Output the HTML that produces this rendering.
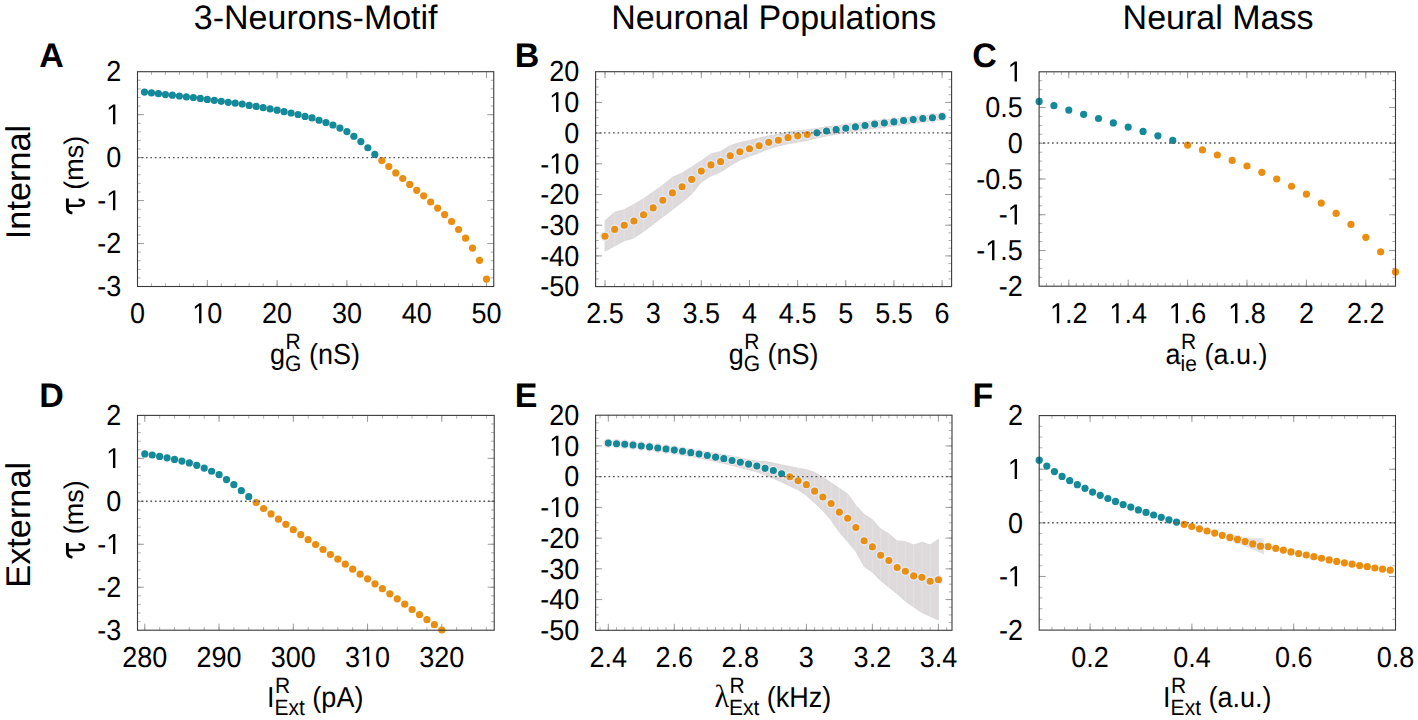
<!DOCTYPE html>
<html><head><meta charset="utf-8"><style>
html,body{margin:0;padding:0;background:#fff;}
body{width:1418px;height:720px;overflow:hidden;}
svg{display:block;font-family:"Liberation Sans",sans-serif;text-rendering:geometricPrecision;}
</style></head><body>
<svg width="1418" height="720" viewBox="0 0 1418 720">
<rect x="0" y="0" width="1418" height="720" fill="#fff"/>
<clipPath id="bc1"><polygon points="605.00,220.60 614.63,212.30 624.26,209.60 633.89,204.40 643.53,198.75 653.16,191.90 662.79,185.20 672.42,177.30 682.05,173.10 691.68,166.90 701.31,160.70 710.95,153.90 720.58,151.50 730.21,145.50 739.84,142.60 749.47,140.40 759.10,138.10 768.73,135.90 778.37,134.20 788.00,131.90 797.63,130.80 807.26,129.70 816.89,128.50 826.52,126.80 836.15,125.70 845.79,124.30 855.42,123.23 865.05,122.17 874.68,121.11 884.31,120.04 893.94,118.97 903.57,117.91 913.21,116.84 922.84,115.78 932.47,114.72 942.10,113.65 942.10,119.60 932.47,120.87 922.84,122.14 913.21,123.41 903.57,124.68 893.94,125.95 884.31,127.22 874.68,128.49 865.05,129.76 855.42,131.03 845.79,132.30 836.15,134.20 826.52,135.90 816.89,138.10 807.26,140.40 797.63,142.10 788.00,143.80 778.37,146.00 768.73,148.85 759.10,152.80 749.47,156.20 739.84,160.10 730.21,165.80 720.58,172.00 710.95,175.90 701.31,182.10 691.68,194.00 682.05,202.30 672.42,209.60 662.79,216.90 653.16,224.20 643.53,231.50 633.89,238.10 624.26,240.80 614.63,246.00 605.00,251.25"/></clipPath>
<polygon points="605.00,220.60 614.63,212.30 624.26,209.60 633.89,204.40 643.53,198.75 653.16,191.90 662.79,185.20 672.42,177.30 682.05,173.10 691.68,166.90 701.31,160.70 710.95,153.90 720.58,151.50 730.21,145.50 739.84,142.60 749.47,140.40 759.10,138.10 768.73,135.90 778.37,134.20 788.00,131.90 797.63,130.80 807.26,129.70 816.89,128.50 826.52,126.80 836.15,125.70 845.79,124.30 855.42,123.23 865.05,122.17 874.68,121.11 884.31,120.04 893.94,118.97 903.57,117.91 913.21,116.84 922.84,115.78 932.47,114.72 942.10,113.65 942.10,119.60 932.47,120.87 922.84,122.14 913.21,123.41 903.57,124.68 893.94,125.95 884.31,127.22 874.68,128.49 865.05,129.76 855.42,131.03 845.79,132.30 836.15,134.20 826.52,135.90 816.89,138.10 807.26,140.40 797.63,142.10 788.00,143.80 778.37,146.00 768.73,148.85 759.10,152.80 749.47,156.20 739.84,160.10 730.21,165.80 720.58,172.00 710.95,175.90 701.31,182.10 691.68,194.00 682.05,202.30 672.42,209.60 662.79,216.90 653.16,224.20 643.53,231.50 633.89,238.10 624.26,240.80 614.63,246.00 605.00,251.25" fill="#dedadb" stroke="#d3d1d2" stroke-width="0.7"/>
<path d="M605.00 218.60V253.25M614.63 210.30V248.00M624.26 207.60V242.80M633.89 202.40V240.10M643.53 196.75V233.50M653.16 189.90V226.20M662.79 183.20V218.90M672.42 175.30V211.60M682.05 171.10V204.30M691.68 164.90V196.00M701.31 158.70V184.10M710.95 151.90V177.90M720.58 149.50V174.00M730.21 143.50V167.80M739.84 140.60V162.10M749.47 138.40V158.20M759.10 136.10V154.80M768.73 133.90V150.85M778.37 132.20V148.00M788.00 129.90V145.80M797.63 128.80V144.10M807.26 127.70V142.40M816.89 126.50V140.10M826.52 124.80V137.90M836.15 123.70V136.20M845.79 122.30V134.30M855.42 121.23V133.03M865.05 120.17V131.76M874.68 119.11V130.49M884.31 118.04V129.22M893.94 116.97V127.95M903.57 115.91V126.68M913.21 114.84V125.41M922.84 113.78V124.14M932.47 112.72V122.87M942.10 111.65V121.60" stroke="#e3e1e2" stroke-width="1" clip-path="url(#bc1)"/>
<clipPath id="bc2"><polygon points="608.30,441.30 616.55,441.90 624.80,442.50 633.06,443.20 641.31,444.20 649.56,444.89 657.81,445.78 666.07,446.57 674.32,447.46 682.57,448.45 690.82,449.59 699.08,450.73 707.33,452.07 715.58,453.46 723.84,454.75 732.09,456.34 740.34,457.93 748.59,459.62 756.85,461.26 765.10,461.50 773.35,463.00 781.60,464.80 789.86,466.50 798.11,468.20 806.36,469.60 814.61,472.40 822.87,477.20 831.12,482.80 839.37,488.30 847.62,493.90 855.88,505.50 864.13,514.30 872.38,519.70 880.63,529.00 888.88,533.75 897.14,540.90 905.39,541.60 913.64,545.00 921.89,542.20 930.15,545.00 938.40,539.40 938.40,620.00 930.15,616.25 921.89,612.50 913.64,606.90 905.39,601.25 897.14,593.75 888.88,587.20 880.63,580.60 872.38,572.20 864.13,566.60 855.88,551.60 847.62,541.80 839.37,532.10 831.12,520.30 822.87,510.60 814.61,502.90 806.36,495.30 798.11,489.70 789.86,486.00 781.60,482.00 773.35,478.50 765.10,475.00 756.85,471.79 748.59,469.69 740.34,467.53 732.09,465.47 723.84,463.42 715.58,461.66 707.33,459.80 699.08,458.00 690.82,456.39 682.57,454.78 674.32,453.33 666.07,451.97 657.81,450.71 649.56,449.36 641.31,448.20 633.06,447.20 624.80,446.50 616.55,445.90 608.30,445.30"/></clipPath>
<polygon points="608.30,441.30 616.55,441.90 624.80,442.50 633.06,443.20 641.31,444.20 649.56,444.89 657.81,445.78 666.07,446.57 674.32,447.46 682.57,448.45 690.82,449.59 699.08,450.73 707.33,452.07 715.58,453.46 723.84,454.75 732.09,456.34 740.34,457.93 748.59,459.62 756.85,461.26 765.10,461.50 773.35,463.00 781.60,464.80 789.86,466.50 798.11,468.20 806.36,469.60 814.61,472.40 822.87,477.20 831.12,482.80 839.37,488.30 847.62,493.90 855.88,505.50 864.13,514.30 872.38,519.70 880.63,529.00 888.88,533.75 897.14,540.90 905.39,541.60 913.64,545.00 921.89,542.20 930.15,545.00 938.40,539.40 938.40,620.00 930.15,616.25 921.89,612.50 913.64,606.90 905.39,601.25 897.14,593.75 888.88,587.20 880.63,580.60 872.38,572.20 864.13,566.60 855.88,551.60 847.62,541.80 839.37,532.10 831.12,520.30 822.87,510.60 814.61,502.90 806.36,495.30 798.11,489.70 789.86,486.00 781.60,482.00 773.35,478.50 765.10,475.00 756.85,471.79 748.59,469.69 740.34,467.53 732.09,465.47 723.84,463.42 715.58,461.66 707.33,459.80 699.08,458.00 690.82,456.39 682.57,454.78 674.32,453.33 666.07,451.97 657.81,450.71 649.56,449.36 641.31,448.20 633.06,447.20 624.80,446.50 616.55,445.90 608.30,445.30" fill="#dedadb" stroke="#d3d1d2" stroke-width="0.7"/>
<path d="M608.30 439.30V447.30M616.55 439.90V447.90M624.80 440.50V448.50M633.06 441.20V449.20M641.31 442.20V450.20M649.56 442.89V451.36M657.81 443.78V452.71M666.07 444.57V453.97M674.32 445.46V455.33M682.57 446.45V456.78M690.82 447.59V458.39M699.08 448.73V460.00M707.33 450.07V461.80M715.58 451.46V463.66M723.84 452.75V465.42M732.09 454.34V467.47M740.34 455.93V469.53M748.59 457.62V471.69M756.85 459.26V473.79M765.10 459.50V477.00M773.35 461.00V480.50M781.60 462.80V484.00M789.86 464.50V488.00M798.11 466.20V491.70M806.36 467.60V497.30M814.61 470.40V504.90M822.87 475.20V512.60M831.12 480.80V522.30M839.37 486.30V534.10M847.62 491.90V543.80M855.88 503.50V553.60M864.13 512.30V568.60M872.38 517.70V574.20M880.63 527.00V582.60M888.88 531.75V589.20M897.14 538.90V595.75M905.39 539.60V603.25M913.64 543.00V608.90M921.89 540.20V614.50M930.15 543.00V618.25M938.40 537.40V622.00" stroke="#e3e1e2" stroke-width="1" clip-path="url(#bc2)"/>
<polygon points="1238.5,537.6 1263.6,538.6 1264.2,554.6 1238.5,543.6" fill="#e1e1e6"/>
<path d="M151.46 286.50v-3.20M151.46 71.70v3.20M165.42 286.50v-3.20M165.42 71.70v3.20M179.38 286.50v-3.20M179.38 71.70v3.20M193.34 286.50v-3.20M193.34 71.70v3.20M207.30 286.50v-3.20M207.30 71.70v3.20M221.26 286.50v-3.20M221.26 71.70v3.20M235.22 286.50v-3.20M235.22 71.70v3.20M249.18 286.50v-3.20M249.18 71.70v3.20M263.14 286.50v-3.20M263.14 71.70v3.20M277.10 286.50v-3.20M277.10 71.70v3.20M291.06 286.50v-3.20M291.06 71.70v3.20M305.02 286.50v-3.20M305.02 71.70v3.20M318.98 286.50v-3.20M318.98 71.70v3.20M332.94 286.50v-3.20M332.94 71.70v3.20M346.90 286.50v-3.20M346.90 71.70v3.20M360.86 286.50v-3.20M360.86 71.70v3.20M374.82 286.50v-3.20M374.82 71.70v3.20M388.78 286.50v-3.20M388.78 71.70v3.20M402.74 286.50v-3.20M402.74 71.70v3.20M416.70 286.50v-3.20M416.70 71.70v3.20M430.66 286.50v-3.20M430.66 71.70v3.20M444.62 286.50v-3.20M444.62 71.70v3.20M458.58 286.50v-3.20M458.58 71.70v3.20M472.54 286.50v-3.20M472.54 71.70v3.20M486.50 286.50v-3.20M486.50 71.70v3.20M137.50 277.91h3.20M493.75 277.91h-3.20M137.50 269.32h3.20M493.75 269.32h-3.20M137.50 260.72h3.20M493.75 260.72h-3.20M137.50 252.13h3.20M493.75 252.13h-3.20M137.50 243.54h3.20M493.75 243.54h-3.20M137.50 234.95h3.20M493.75 234.95h-3.20M137.50 226.36h3.20M493.75 226.36h-3.20M137.50 217.76h3.20M493.75 217.76h-3.20M137.50 209.17h3.20M493.75 209.17h-3.20M137.50 200.58h3.20M493.75 200.58h-3.20M137.50 191.99h3.20M493.75 191.99h-3.20M137.50 183.40h3.20M493.75 183.40h-3.20M137.50 174.80h3.20M493.75 174.80h-3.20M137.50 166.21h3.20M493.75 166.21h-3.20M137.50 157.62h3.20M493.75 157.62h-3.20M137.50 149.03h3.20M493.75 149.03h-3.20M137.50 140.44h3.20M493.75 140.44h-3.20M137.50 131.84h3.20M493.75 131.84h-3.20M137.50 123.25h3.20M493.75 123.25h-3.20M137.50 114.66h3.20M493.75 114.66h-3.20M137.50 106.07h3.20M493.75 106.07h-3.20M137.50 97.48h3.20M493.75 97.48h-3.20M137.50 88.88h3.20M493.75 88.88h-3.20M137.50 80.29h3.20M493.75 80.29h-3.20" stroke="#b0b0b0" stroke-width="1" fill="none"/>
<path d="M207.30 286.50v-6.50M207.30 71.70v6.50M277.10 286.50v-6.50M277.10 71.70v6.50M346.90 286.50v-6.50M346.90 71.70v6.50M416.70 286.50v-6.50M416.70 71.70v6.50M486.50 286.50v-6.50M486.50 71.70v6.50M137.50 243.54h6.50M493.75 243.54h-6.50M137.50 200.58h6.50M493.75 200.58h-6.50M137.50 157.62h6.50M493.75 157.62h-6.50M137.50 114.66h6.50M493.75 114.66h-6.50" stroke="#9c9c9c" stroke-width="1" fill="none"/>
<path d="M605.00 286.60v-3.20M605.00 71.70v3.20M614.63 286.60v-3.20M614.63 71.70v3.20M624.26 286.60v-3.20M624.26 71.70v3.20M633.89 286.60v-3.20M633.89 71.70v3.20M643.53 286.60v-3.20M643.53 71.70v3.20M653.16 286.60v-3.20M653.16 71.70v3.20M662.79 286.60v-3.20M662.79 71.70v3.20M672.42 286.60v-3.20M672.42 71.70v3.20M682.05 286.60v-3.20M682.05 71.70v3.20M691.68 286.60v-3.20M691.68 71.70v3.20M701.31 286.60v-3.20M701.31 71.70v3.20M710.95 286.60v-3.20M710.95 71.70v3.20M720.58 286.60v-3.20M720.58 71.70v3.20M730.21 286.60v-3.20M730.21 71.70v3.20M739.84 286.60v-3.20M739.84 71.70v3.20M749.47 286.60v-3.20M749.47 71.70v3.20M759.10 286.60v-3.20M759.10 71.70v3.20M768.73 286.60v-3.20M768.73 71.70v3.20M778.37 286.60v-3.20M778.37 71.70v3.20M788.00 286.60v-3.20M788.00 71.70v3.20M797.63 286.60v-3.20M797.63 71.70v3.20M807.26 286.60v-3.20M807.26 71.70v3.20M816.89 286.60v-3.20M816.89 71.70v3.20M826.52 286.60v-3.20M826.52 71.70v3.20M836.15 286.60v-3.20M836.15 71.70v3.20M845.79 286.60v-3.20M845.79 71.70v3.20M855.42 286.60v-3.20M855.42 71.70v3.20M865.05 286.60v-3.20M865.05 71.70v3.20M874.68 286.60v-3.20M874.68 71.70v3.20M884.31 286.60v-3.20M884.31 71.70v3.20M893.94 286.60v-3.20M893.94 71.70v3.20M903.57 286.60v-3.20M903.57 71.70v3.20M913.21 286.60v-3.20M913.21 71.70v3.20M922.84 286.60v-3.20M922.84 71.70v3.20M932.47 286.60v-3.20M932.47 71.70v3.20M942.10 286.60v-3.20M942.10 71.70v3.20M595.60 278.93h3.20M951.60 278.93h-3.20M595.60 271.25h3.20M951.60 271.25h-3.20M595.60 263.58h3.20M951.60 263.58h-3.20M595.60 255.90h3.20M951.60 255.90h-3.20M595.60 248.23h3.20M951.60 248.23h-3.20M595.60 240.55h3.20M951.60 240.55h-3.20M595.60 232.88h3.20M951.60 232.88h-3.20M595.60 225.20h3.20M951.60 225.20h-3.20M595.60 217.53h3.20M951.60 217.53h-3.20M595.60 209.85h3.20M951.60 209.85h-3.20M595.60 202.18h3.20M951.60 202.18h-3.20M595.60 194.50h3.20M951.60 194.50h-3.20M595.60 186.83h3.20M951.60 186.83h-3.20M595.60 179.15h3.20M951.60 179.15h-3.20M595.60 171.48h3.20M951.60 171.48h-3.20M595.60 163.80h3.20M951.60 163.80h-3.20M595.60 156.12h3.20M951.60 156.12h-3.20M595.60 148.45h3.20M951.60 148.45h-3.20M595.60 140.78h3.20M951.60 140.78h-3.20M595.60 133.10h3.20M951.60 133.10h-3.20M595.60 125.43h3.20M951.60 125.43h-3.20M595.60 117.75h3.20M951.60 117.75h-3.20M595.60 110.08h3.20M951.60 110.08h-3.20M595.60 102.40h3.20M951.60 102.40h-3.20M595.60 94.73h3.20M951.60 94.73h-3.20M595.60 87.05h3.20M951.60 87.05h-3.20M595.60 79.38h3.20M951.60 79.38h-3.20" stroke="#b0b0b0" stroke-width="1" fill="none"/>
<path d="M605.00 286.60v-6.50M605.00 71.70v6.50M653.16 286.60v-6.50M653.16 71.70v6.50M701.31 286.60v-6.50M701.31 71.70v6.50M749.47 286.60v-6.50M749.47 71.70v6.50M797.63 286.60v-6.50M797.63 71.70v6.50M845.79 286.60v-6.50M845.79 71.70v6.50M893.94 286.60v-6.50M893.94 71.70v6.50M942.10 286.60v-6.50M942.10 71.70v6.50M595.60 255.90h6.50M951.60 255.90h-6.50M595.60 225.20h6.50M951.60 225.20h-6.50M595.60 194.50h6.50M951.60 194.50h-6.50M595.60 163.80h6.50M951.60 163.80h-6.50M595.60 133.10h6.50M951.60 133.10h-6.50M595.60 102.40h6.50M951.60 102.40h-6.50" stroke="#9c9c9c" stroke-width="1" fill="none"/>
<path d="M1046.52 286.20v-3.20M1046.52 71.80v3.20M1053.95 286.20v-3.20M1053.95 71.80v3.20M1061.38 286.20v-3.20M1061.38 71.80v3.20M1068.80 286.20v-3.20M1068.80 71.80v3.20M1076.22 286.20v-3.20M1076.22 71.80v3.20M1083.65 286.20v-3.20M1083.65 71.80v3.20M1091.08 286.20v-3.20M1091.08 71.80v3.20M1098.50 286.20v-3.20M1098.50 71.80v3.20M1105.92 286.20v-3.20M1105.92 71.80v3.20M1113.35 286.20v-3.20M1113.35 71.80v3.20M1120.77 286.20v-3.20M1120.77 71.80v3.20M1128.20 286.20v-3.20M1128.20 71.80v3.20M1135.62 286.20v-3.20M1135.62 71.80v3.20M1143.05 286.20v-3.20M1143.05 71.80v3.20M1150.47 286.20v-3.20M1150.47 71.80v3.20M1157.90 286.20v-3.20M1157.90 71.80v3.20M1165.33 286.20v-3.20M1165.33 71.80v3.20M1172.75 286.20v-3.20M1172.75 71.80v3.20M1180.17 286.20v-3.20M1180.17 71.80v3.20M1187.60 286.20v-3.20M1187.60 71.80v3.20M1195.02 286.20v-3.20M1195.02 71.80v3.20M1202.45 286.20v-3.20M1202.45 71.80v3.20M1209.88 286.20v-3.20M1209.88 71.80v3.20M1217.30 286.20v-3.20M1217.30 71.80v3.20M1224.72 286.20v-3.20M1224.72 71.80v3.20M1232.15 286.20v-3.20M1232.15 71.80v3.20M1239.58 286.20v-3.20M1239.58 71.80v3.20M1247.00 286.20v-3.20M1247.00 71.80v3.20M1254.42 286.20v-3.20M1254.42 71.80v3.20M1261.85 286.20v-3.20M1261.85 71.80v3.20M1269.28 286.20v-3.20M1269.28 71.80v3.20M1276.70 286.20v-3.20M1276.70 71.80v3.20M1284.12 286.20v-3.20M1284.12 71.80v3.20M1291.55 286.20v-3.20M1291.55 71.80v3.20M1298.97 286.20v-3.20M1298.97 71.80v3.20M1306.40 286.20v-3.20M1306.40 71.80v3.20M1313.83 286.20v-3.20M1313.83 71.80v3.20M1321.25 286.20v-3.20M1321.25 71.80v3.20M1328.68 286.20v-3.20M1328.68 71.80v3.20M1336.10 286.20v-3.20M1336.10 71.80v3.20M1343.53 286.20v-3.20M1343.53 71.80v3.20M1350.95 286.20v-3.20M1350.95 71.80v3.20M1358.38 286.20v-3.20M1358.38 71.80v3.20M1365.80 286.20v-3.20M1365.80 71.80v3.20M1373.23 286.20v-3.20M1373.23 71.80v3.20M1380.65 286.20v-3.20M1380.65 71.80v3.20M1388.08 286.20v-3.20M1388.08 71.80v3.20M1039.10 277.27h3.20M1395.50 277.27h-3.20M1039.10 268.33h3.20M1395.50 268.33h-3.20M1039.10 259.40h3.20M1395.50 259.40h-3.20M1039.10 250.47h3.20M1395.50 250.47h-3.20M1039.10 241.53h3.20M1395.50 241.53h-3.20M1039.10 232.60h3.20M1395.50 232.60h-3.20M1039.10 223.67h3.20M1395.50 223.67h-3.20M1039.10 214.73h3.20M1395.50 214.73h-3.20M1039.10 205.80h3.20M1395.50 205.80h-3.20M1039.10 196.87h3.20M1395.50 196.87h-3.20M1039.10 187.93h3.20M1395.50 187.93h-3.20M1039.10 179.00h3.20M1395.50 179.00h-3.20M1039.10 170.07h3.20M1395.50 170.07h-3.20M1039.10 161.13h3.20M1395.50 161.13h-3.20M1039.10 152.20h3.20M1395.50 152.20h-3.20M1039.10 143.27h3.20M1395.50 143.27h-3.20M1039.10 134.33h3.20M1395.50 134.33h-3.20M1039.10 125.40h3.20M1395.50 125.40h-3.20M1039.10 116.47h3.20M1395.50 116.47h-3.20M1039.10 107.53h3.20M1395.50 107.53h-3.20M1039.10 98.60h3.20M1395.50 98.60h-3.20M1039.10 89.67h3.20M1395.50 89.67h-3.20M1039.10 80.73h3.20M1395.50 80.73h-3.20" stroke="#b0b0b0" stroke-width="1" fill="none"/>
<path d="M1068.80 286.20v-6.50M1068.80 71.80v6.50M1128.20 286.20v-6.50M1128.20 71.80v6.50M1187.60 286.20v-6.50M1187.60 71.80v6.50M1247.00 286.20v-6.50M1247.00 71.80v6.50M1306.40 286.20v-6.50M1306.40 71.80v6.50M1365.80 286.20v-6.50M1365.80 71.80v6.50M1039.10 250.47h6.50M1395.50 250.47h-6.50M1039.10 214.73h6.50M1395.50 214.73h-6.50M1039.10 179.00h6.50M1395.50 179.00h-6.50M1039.10 143.27h6.50M1395.50 143.27h-6.50M1039.10 107.53h6.50M1395.50 107.53h-6.50" stroke="#9c9c9c" stroke-width="1" fill="none"/>
<path d="M144.80 630.20v-3.20M144.80 415.40v3.20M159.65 630.20v-3.20M159.65 415.40v3.20M174.50 630.20v-3.20M174.50 415.40v3.20M189.35 630.20v-3.20M189.35 415.40v3.20M204.20 630.20v-3.20M204.20 415.40v3.20M219.05 630.20v-3.20M219.05 415.40v3.20M233.90 630.20v-3.20M233.90 415.40v3.20M248.75 630.20v-3.20M248.75 415.40v3.20M263.60 630.20v-3.20M263.60 415.40v3.20M278.45 630.20v-3.20M278.45 415.40v3.20M293.30 630.20v-3.20M293.30 415.40v3.20M308.15 630.20v-3.20M308.15 415.40v3.20M323.00 630.20v-3.20M323.00 415.40v3.20M337.85 630.20v-3.20M337.85 415.40v3.20M352.70 630.20v-3.20M352.70 415.40v3.20M367.55 630.20v-3.20M367.55 415.40v3.20M382.40 630.20v-3.20M382.40 415.40v3.20M397.25 630.20v-3.20M397.25 415.40v3.20M412.10 630.20v-3.20M412.10 415.40v3.20M426.95 630.20v-3.20M426.95 415.40v3.20M441.80 630.20v-3.20M441.80 415.40v3.20M456.65 630.20v-3.20M456.65 415.40v3.20M471.50 630.20v-3.20M471.50 415.40v3.20M486.35 630.20v-3.20M486.35 415.40v3.20M137.50 621.61h3.20M494.20 621.61h-3.20M137.50 613.02h3.20M494.20 613.02h-3.20M137.50 604.42h3.20M494.20 604.42h-3.20M137.50 595.83h3.20M494.20 595.83h-3.20M137.50 587.24h3.20M494.20 587.24h-3.20M137.50 578.65h3.20M494.20 578.65h-3.20M137.50 570.06h3.20M494.20 570.06h-3.20M137.50 561.46h3.20M494.20 561.46h-3.20M137.50 552.87h3.20M494.20 552.87h-3.20M137.50 544.28h3.20M494.20 544.28h-3.20M137.50 535.69h3.20M494.20 535.69h-3.20M137.50 527.10h3.20M494.20 527.10h-3.20M137.50 518.50h3.20M494.20 518.50h-3.20M137.50 509.91h3.20M494.20 509.91h-3.20M137.50 501.32h3.20M494.20 501.32h-3.20M137.50 492.73h3.20M494.20 492.73h-3.20M137.50 484.14h3.20M494.20 484.14h-3.20M137.50 475.54h3.20M494.20 475.54h-3.20M137.50 466.95h3.20M494.20 466.95h-3.20M137.50 458.36h3.20M494.20 458.36h-3.20M137.50 449.77h3.20M494.20 449.77h-3.20M137.50 441.18h3.20M494.20 441.18h-3.20M137.50 432.58h3.20M494.20 432.58h-3.20M137.50 423.99h3.20M494.20 423.99h-3.20" stroke="#b0b0b0" stroke-width="1" fill="none"/>
<path d="M144.80 630.20v-6.50M144.80 415.40v6.50M219.05 630.20v-6.50M219.05 415.40v6.50M293.30 630.20v-6.50M293.30 415.40v6.50M367.55 630.20v-6.50M367.55 415.40v6.50M441.80 630.20v-6.50M441.80 415.40v6.50M137.50 587.24h6.50M494.20 587.24h-6.50M137.50 544.28h6.50M494.20 544.28h-6.50M137.50 501.32h6.50M494.20 501.32h-6.50M137.50 458.36h6.50M494.20 458.36h-6.50" stroke="#9c9c9c" stroke-width="1" fill="none"/>
<path d="M600.05 630.30v-3.20M600.05 415.20v3.20M608.30 630.30v-3.20M608.30 415.20v3.20M616.55 630.30v-3.20M616.55 415.20v3.20M624.81 630.30v-3.20M624.81 415.20v3.20M633.06 630.30v-3.20M633.06 415.20v3.20M641.31 630.30v-3.20M641.31 415.20v3.20M649.56 630.30v-3.20M649.56 415.20v3.20M657.82 630.30v-3.20M657.82 415.20v3.20M666.07 630.30v-3.20M666.07 415.20v3.20M674.32 630.30v-3.20M674.32 415.20v3.20M682.57 630.30v-3.20M682.57 415.20v3.20M690.83 630.30v-3.20M690.83 415.20v3.20M699.08 630.30v-3.20M699.08 415.20v3.20M707.33 630.30v-3.20M707.33 415.20v3.20M715.58 630.30v-3.20M715.58 415.20v3.20M723.84 630.30v-3.20M723.84 415.20v3.20M732.09 630.30v-3.20M732.09 415.20v3.20M740.34 630.30v-3.20M740.34 415.20v3.20M748.59 630.30v-3.20M748.59 415.20v3.20M756.85 630.30v-3.20M756.85 415.20v3.20M765.10 630.30v-3.20M765.10 415.20v3.20M773.35 630.30v-3.20M773.35 415.20v3.20M781.60 630.30v-3.20M781.60 415.20v3.20M789.86 630.30v-3.20M789.86 415.20v3.20M798.11 630.30v-3.20M798.11 415.20v3.20M806.36 630.30v-3.20M806.36 415.20v3.20M814.61 630.30v-3.20M814.61 415.20v3.20M822.87 630.30v-3.20M822.87 415.20v3.20M831.12 630.30v-3.20M831.12 415.20v3.20M839.37 630.30v-3.20M839.37 415.20v3.20M847.62 630.30v-3.20M847.62 415.20v3.20M855.88 630.30v-3.20M855.88 415.20v3.20M864.13 630.30v-3.20M864.13 415.20v3.20M872.38 630.30v-3.20M872.38 415.20v3.20M880.63 630.30v-3.20M880.63 415.20v3.20M888.88 630.30v-3.20M888.88 415.20v3.20M897.14 630.30v-3.20M897.14 415.20v3.20M905.39 630.30v-3.20M905.39 415.20v3.20M913.64 630.30v-3.20M913.64 415.20v3.20M921.89 630.30v-3.20M921.89 415.20v3.20M930.15 630.30v-3.20M930.15 415.20v3.20M938.40 630.30v-3.20M938.40 415.20v3.20M946.65 630.30v-3.20M946.65 415.20v3.20M595.60 622.62h3.20M952.00 622.62h-3.20M595.60 614.94h3.20M952.00 614.94h-3.20M595.60 607.25h3.20M952.00 607.25h-3.20M595.60 599.57h3.20M952.00 599.57h-3.20M595.60 591.89h3.20M952.00 591.89h-3.20M595.60 584.21h3.20M952.00 584.21h-3.20M595.60 576.52h3.20M952.00 576.52h-3.20M595.60 568.84h3.20M952.00 568.84h-3.20M595.60 561.16h3.20M952.00 561.16h-3.20M595.60 553.48h3.20M952.00 553.48h-3.20M595.60 545.80h3.20M952.00 545.80h-3.20M595.60 538.11h3.20M952.00 538.11h-3.20M595.60 530.43h3.20M952.00 530.43h-3.20M595.60 522.75h3.20M952.00 522.75h-3.20M595.60 515.07h3.20M952.00 515.07h-3.20M595.60 507.39h3.20M952.00 507.39h-3.20M595.60 499.70h3.20M952.00 499.70h-3.20M595.60 492.02h3.20M952.00 492.02h-3.20M595.60 484.34h3.20M952.00 484.34h-3.20M595.60 476.66h3.20M952.00 476.66h-3.20M595.60 468.97h3.20M952.00 468.97h-3.20M595.60 461.29h3.20M952.00 461.29h-3.20M595.60 453.61h3.20M952.00 453.61h-3.20M595.60 445.93h3.20M952.00 445.93h-3.20M595.60 438.25h3.20M952.00 438.25h-3.20M595.60 430.56h3.20M952.00 430.56h-3.20M595.60 422.88h3.20M952.00 422.88h-3.20" stroke="#b0b0b0" stroke-width="1" fill="none"/>
<path d="M608.30 630.30v-6.50M608.30 415.20v6.50M674.32 630.30v-6.50M674.32 415.20v6.50M740.34 630.30v-6.50M740.34 415.20v6.50M806.36 630.30v-6.50M806.36 415.20v6.50M872.38 630.30v-6.50M872.38 415.20v6.50M938.40 630.30v-6.50M938.40 415.20v6.50M595.60 599.57h6.50M952.00 599.57h-6.50M595.60 568.84h6.50M952.00 568.84h-6.50M595.60 538.11h6.50M952.00 538.11h-6.50M595.60 507.39h6.50M952.00 507.39h-6.50M595.60 476.66h6.50M952.00 476.66h-6.50M595.60 445.93h6.50M952.00 445.93h-6.50" stroke="#9c9c9c" stroke-width="1" fill="none"/>
<path d="M1051.92 630.10v-3.20M1051.92 415.60v3.20M1064.65 630.10v-3.20M1064.65 415.60v3.20M1077.38 630.10v-3.20M1077.38 415.60v3.20M1090.10 630.10v-3.20M1090.10 415.60v3.20M1102.83 630.10v-3.20M1102.83 415.60v3.20M1115.55 630.10v-3.20M1115.55 415.60v3.20M1128.28 630.10v-3.20M1128.28 415.60v3.20M1141.00 630.10v-3.20M1141.00 415.60v3.20M1153.72 630.10v-3.20M1153.72 415.60v3.20M1166.45 630.10v-3.20M1166.45 415.60v3.20M1179.17 630.10v-3.20M1179.17 415.60v3.20M1191.90 630.10v-3.20M1191.90 415.60v3.20M1204.62 630.10v-3.20M1204.62 415.60v3.20M1217.35 630.10v-3.20M1217.35 415.60v3.20M1230.08 630.10v-3.20M1230.08 415.60v3.20M1242.80 630.10v-3.20M1242.80 415.60v3.20M1255.53 630.10v-3.20M1255.53 415.60v3.20M1268.25 630.10v-3.20M1268.25 415.60v3.20M1280.97 630.10v-3.20M1280.97 415.60v3.20M1293.70 630.10v-3.20M1293.70 415.60v3.20M1306.42 630.10v-3.20M1306.42 415.60v3.20M1319.15 630.10v-3.20M1319.15 415.60v3.20M1331.88 630.10v-3.20M1331.88 415.60v3.20M1344.60 630.10v-3.20M1344.60 415.60v3.20M1357.33 630.10v-3.20M1357.33 415.60v3.20M1370.05 630.10v-3.20M1370.05 415.60v3.20M1382.78 630.10v-3.20M1382.78 415.60v3.20M1039.20 619.38h3.20M1395.50 619.38h-3.20M1039.20 608.65h3.20M1395.50 608.65h-3.20M1039.20 597.92h3.20M1395.50 597.92h-3.20M1039.20 587.20h3.20M1395.50 587.20h-3.20M1039.20 576.48h3.20M1395.50 576.48h-3.20M1039.20 565.75h3.20M1395.50 565.75h-3.20M1039.20 555.02h3.20M1395.50 555.02h-3.20M1039.20 544.30h3.20M1395.50 544.30h-3.20M1039.20 533.58h3.20M1395.50 533.58h-3.20M1039.20 522.85h3.20M1395.50 522.85h-3.20M1039.20 512.12h3.20M1395.50 512.12h-3.20M1039.20 501.40h3.20M1395.50 501.40h-3.20M1039.20 490.68h3.20M1395.50 490.68h-3.20M1039.20 479.95h3.20M1395.50 479.95h-3.20M1039.20 469.23h3.20M1395.50 469.23h-3.20M1039.20 458.50h3.20M1395.50 458.50h-3.20M1039.20 447.77h3.20M1395.50 447.77h-3.20M1039.20 437.05h3.20M1395.50 437.05h-3.20M1039.20 426.32h3.20M1395.50 426.32h-3.20" stroke="#b0b0b0" stroke-width="1" fill="none"/>
<path d="M1090.10 630.10v-6.50M1090.10 415.60v6.50M1191.90 630.10v-6.50M1191.90 415.60v6.50M1293.70 630.10v-6.50M1293.70 415.60v6.50M1039.20 576.48h6.50M1395.50 576.48h-6.50M1039.20 522.85h6.50M1395.50 522.85h-6.50M1039.20 469.23h6.50M1395.50 469.23h-6.50" stroke="#9c9c9c" stroke-width="1" fill="none"/>
<circle cx="144.48" cy="92.07" r="3.60" fill="#13899a"/>
<circle cx="151.46" cy="92.97" r="3.60" fill="#13899a"/>
<circle cx="158.44" cy="93.70" r="3.60" fill="#13899a"/>
<circle cx="165.42" cy="94.60" r="3.60" fill="#13899a"/>
<circle cx="172.40" cy="95.21" r="3.60" fill="#13899a"/>
<circle cx="179.38" cy="95.98" r="3.60" fill="#13899a"/>
<circle cx="186.36" cy="96.88" r="3.60" fill="#13899a"/>
<circle cx="193.34" cy="97.49" r="3.60" fill="#13899a"/>
<circle cx="200.32" cy="98.39" r="3.60" fill="#13899a"/>
<circle cx="207.30" cy="99.42" r="3.60" fill="#13899a"/>
<circle cx="214.28" cy="100.28" r="3.60" fill="#13899a"/>
<circle cx="221.26" cy="101.31" r="3.60" fill="#13899a"/>
<circle cx="228.24" cy="102.30" r="3.60" fill="#13899a"/>
<circle cx="235.22" cy="103.20" r="3.60" fill="#13899a"/>
<circle cx="242.20" cy="104.11" r="3.60" fill="#13899a"/>
<circle cx="249.18" cy="105.40" r="3.60" fill="#13899a"/>
<circle cx="256.16" cy="106.39" r="3.60" fill="#13899a"/>
<circle cx="263.14" cy="107.72" r="3.60" fill="#13899a"/>
<circle cx="270.12" cy="108.88" r="3.60" fill="#13899a"/>
<circle cx="277.10" cy="110.21" r="3.60" fill="#13899a"/>
<circle cx="284.08" cy="111.72" r="3.60" fill="#13899a"/>
<circle cx="291.06" cy="113.01" r="3.60" fill="#13899a"/>
<circle cx="298.04" cy="114.51" r="3.60" fill="#13899a"/>
<circle cx="305.02" cy="116.41" r="3.60" fill="#13899a"/>
<circle cx="312.00" cy="117.95" r="3.60" fill="#13899a"/>
<circle cx="318.98" cy="120.23" r="3.60" fill="#13899a"/>
<circle cx="325.96" cy="122.51" r="3.60" fill="#13899a"/>
<circle cx="332.94" cy="125.01" r="3.60" fill="#13899a"/>
<circle cx="339.92" cy="128.10" r="3.60" fill="#13899a"/>
<circle cx="346.90" cy="131.58" r="3.60" fill="#13899a"/>
<circle cx="353.88" cy="136.23" r="3.60" fill="#13899a"/>
<circle cx="360.86" cy="141.60" r="3.60" fill="#13899a"/>
<circle cx="367.84" cy="147.75" r="3.60" fill="#13899a"/>
<circle cx="374.82" cy="154.42" r="3.60" fill="#13899a"/>
<circle cx="381.80" cy="160.61" r="3.60" fill="#ea8e12"/>
<circle cx="388.78" cy="166.59" r="3.60" fill="#ea8e12"/>
<circle cx="395.76" cy="172.91" r="3.60" fill="#ea8e12"/>
<circle cx="402.74" cy="178.50" r="3.60" fill="#ea8e12"/>
<circle cx="409.72" cy="184.39" r="3.60" fill="#ea8e12"/>
<circle cx="416.70" cy="190.28" r="3.60" fill="#ea8e12"/>
<circle cx="423.68" cy="195.78" r="3.60" fill="#ea8e12"/>
<circle cx="430.66" cy="202.02" r="3.60" fill="#ea8e12"/>
<circle cx="437.64" cy="208.08" r="3.60" fill="#ea8e12"/>
<circle cx="444.62" cy="214.62" r="3.60" fill="#ea8e12"/>
<circle cx="451.60" cy="221.50" r="3.60" fill="#ea8e12"/>
<circle cx="458.58" cy="229.50" r="3.60" fill="#ea8e12"/>
<circle cx="465.56" cy="238.18" r="3.60" fill="#ea8e12"/>
<circle cx="472.54" cy="248.12" r="3.60" fill="#ea8e12"/>
<circle cx="479.52" cy="260.28" r="3.60" fill="#ea8e12"/>
<circle cx="486.50" cy="279.07" r="3.60" fill="#ea8e12"/>
<circle cx="605.00" cy="236.25" r="4.20" fill="#ea8e12" stroke="#e4ebf8" stroke-width="1.3"/>
<circle cx="614.63" cy="229.40" r="4.20" fill="#ea8e12" stroke="#e4ebf8" stroke-width="1.3"/>
<circle cx="624.26" cy="225.20" r="4.20" fill="#ea8e12" stroke="#e4ebf8" stroke-width="1.3"/>
<circle cx="633.89" cy="221.00" r="4.20" fill="#ea8e12" stroke="#e4ebf8" stroke-width="1.3"/>
<circle cx="643.53" cy="214.80" r="4.20" fill="#ea8e12" stroke="#e4ebf8" stroke-width="1.3"/>
<circle cx="653.16" cy="207.90" r="4.20" fill="#ea8e12" stroke="#e4ebf8" stroke-width="1.3"/>
<circle cx="662.79" cy="200.20" r="4.20" fill="#ea8e12" stroke="#e4ebf8" stroke-width="1.3"/>
<circle cx="672.42" cy="192.90" r="4.20" fill="#ea8e12" stroke="#e4ebf8" stroke-width="1.3"/>
<circle cx="682.05" cy="186.70" r="4.20" fill="#ea8e12" stroke="#e4ebf8" stroke-width="1.3"/>
<circle cx="691.68" cy="179.40" r="4.20" fill="#ea8e12" stroke="#e4ebf8" stroke-width="1.3"/>
<circle cx="701.31" cy="171.10" r="4.20" fill="#ea8e12" stroke="#e4ebf8" stroke-width="1.3"/>
<circle cx="710.95" cy="164.90" r="4.20" fill="#ea8e12" stroke="#e4ebf8" stroke-width="1.3"/>
<circle cx="720.58" cy="161.65" r="4.20" fill="#ea8e12" stroke="#e4ebf8" stroke-width="1.3"/>
<circle cx="730.21" cy="155.80" r="4.20" fill="#ea8e12" stroke="#e4ebf8" stroke-width="1.3"/>
<circle cx="739.84" cy="151.70" r="4.20" fill="#ea8e12" stroke="#e4ebf8" stroke-width="1.3"/>
<circle cx="749.47" cy="148.80" r="4.20" fill="#ea8e12" stroke="#e4ebf8" stroke-width="1.3"/>
<circle cx="759.10" cy="145.70" r="4.20" fill="#ea8e12" stroke="#e4ebf8" stroke-width="1.3"/>
<circle cx="768.73" cy="142.35" r="4.20" fill="#ea8e12" stroke="#e4ebf8" stroke-width="1.3"/>
<circle cx="778.37" cy="140.30" r="4.20" fill="#ea8e12" stroke="#e4ebf8" stroke-width="1.3"/>
<circle cx="788.00" cy="137.65" r="4.20" fill="#ea8e12" stroke="#e4ebf8" stroke-width="1.3"/>
<circle cx="797.63" cy="135.85" r="4.20" fill="#ea8e12" stroke="#e4ebf8" stroke-width="1.3"/>
<circle cx="807.26" cy="134.45" r="4.20" fill="#ea8e12" stroke="#e4ebf8" stroke-width="1.3"/>
<circle cx="816.89" cy="132.85" r="4.20" fill="#13899a" stroke="#f2e6e6" stroke-width="1.3"/>
<circle cx="826.52" cy="131.05" r="4.20" fill="#13899a" stroke="#f2e6e6" stroke-width="1.3"/>
<circle cx="836.15" cy="129.65" r="4.20" fill="#13899a" stroke="#f2e6e6" stroke-width="1.3"/>
<circle cx="845.79" cy="128.20" r="4.20" fill="#13899a" stroke="#f2e6e6" stroke-width="1.3"/>
<circle cx="855.42" cy="126.90" r="4.20" fill="#13899a" stroke="#f2e6e6" stroke-width="1.3"/>
<circle cx="865.05" cy="125.50" r="4.20" fill="#13899a" stroke="#f2e6e6" stroke-width="1.3"/>
<circle cx="874.68" cy="124.10" r="4.20" fill="#13899a" stroke="#f2e6e6" stroke-width="1.3"/>
<circle cx="884.31" cy="123.00" r="4.20" fill="#13899a" stroke="#f2e6e6" stroke-width="1.3"/>
<circle cx="893.94" cy="121.90" r="4.20" fill="#13899a" stroke="#f2e6e6" stroke-width="1.3"/>
<circle cx="903.57" cy="120.50" r="4.20" fill="#13899a" stroke="#f2e6e6" stroke-width="1.3"/>
<circle cx="913.21" cy="119.60" r="4.20" fill="#13899a" stroke="#f2e6e6" stroke-width="1.3"/>
<circle cx="922.84" cy="118.50" r="4.20" fill="#13899a" stroke="#f2e6e6" stroke-width="1.3"/>
<circle cx="932.47" cy="117.80" r="4.20" fill="#13899a" stroke="#f2e6e6" stroke-width="1.3"/>
<circle cx="942.10" cy="116.50" r="4.20" fill="#13899a" stroke="#f2e6e6" stroke-width="1.3"/>
<circle cx="1039.10" cy="101.40" r="3.60" fill="#13899a"/>
<circle cx="1053.95" cy="105.70" r="3.60" fill="#13899a"/>
<circle cx="1068.80" cy="110.10" r="3.60" fill="#13899a"/>
<circle cx="1083.65" cy="114.30" r="3.60" fill="#13899a"/>
<circle cx="1098.50" cy="118.50" r="3.60" fill="#13899a"/>
<circle cx="1113.35" cy="122.90" r="3.60" fill="#13899a"/>
<circle cx="1128.20" cy="127.10" r="3.60" fill="#13899a"/>
<circle cx="1143.05" cy="131.40" r="3.60" fill="#13899a"/>
<circle cx="1157.90" cy="135.80" r="3.60" fill="#13899a"/>
<circle cx="1172.75" cy="140.40" r="3.60" fill="#13899a"/>
<circle cx="1187.60" cy="145.10" r="3.60" fill="#ea8e12"/>
<circle cx="1202.45" cy="149.90" r="3.60" fill="#ea8e12"/>
<circle cx="1217.30" cy="155.00" r="3.60" fill="#ea8e12"/>
<circle cx="1232.15" cy="160.40" r="3.60" fill="#ea8e12"/>
<circle cx="1247.00" cy="166.00" r="3.60" fill="#ea8e12"/>
<circle cx="1261.85" cy="172.30" r="3.60" fill="#ea8e12"/>
<circle cx="1276.70" cy="179.00" r="3.60" fill="#ea8e12"/>
<circle cx="1291.55" cy="186.25" r="3.60" fill="#ea8e12"/>
<circle cx="1306.40" cy="194.20" r="3.60" fill="#ea8e12"/>
<circle cx="1321.25" cy="203.10" r="3.60" fill="#ea8e12"/>
<circle cx="1336.10" cy="213.30" r="3.60" fill="#ea8e12"/>
<circle cx="1350.95" cy="224.40" r="3.60" fill="#ea8e12"/>
<circle cx="1365.80" cy="237.30" r="3.60" fill="#ea8e12"/>
<circle cx="1380.65" cy="251.90" r="3.60" fill="#ea8e12"/>
<circle cx="1395.50" cy="271.90" r="3.60" fill="#ea8e12"/>
<circle cx="144.80" cy="453.90" r="3.60" fill="#13899a"/>
<circle cx="152.23" cy="455.00" r="3.60" fill="#13899a"/>
<circle cx="159.65" cy="456.40" r="3.60" fill="#13899a"/>
<circle cx="167.08" cy="457.80" r="3.60" fill="#13899a"/>
<circle cx="174.50" cy="459.40" r="3.60" fill="#13899a"/>
<circle cx="181.93" cy="461.10" r="3.60" fill="#13899a"/>
<circle cx="189.35" cy="462.90" r="3.60" fill="#13899a"/>
<circle cx="196.78" cy="465.30" r="3.60" fill="#13899a"/>
<circle cx="204.20" cy="468.10" r="3.60" fill="#13899a"/>
<circle cx="211.62" cy="471.25" r="3.60" fill="#13899a"/>
<circle cx="219.05" cy="474.70" r="3.60" fill="#13899a"/>
<circle cx="226.48" cy="479.60" r="3.60" fill="#13899a"/>
<circle cx="233.90" cy="484.70" r="3.60" fill="#13899a"/>
<circle cx="241.33" cy="490.70" r="3.60" fill="#13899a"/>
<circle cx="248.75" cy="496.70" r="3.60" fill="#13899a"/>
<circle cx="256.18" cy="502.50" r="3.60" fill="#ea8e12"/>
<circle cx="263.60" cy="508.50" r="3.60" fill="#ea8e12"/>
<circle cx="271.02" cy="513.90" r="3.60" fill="#ea8e12"/>
<circle cx="278.45" cy="519.20" r="3.60" fill="#ea8e12"/>
<circle cx="285.88" cy="524.30" r="3.60" fill="#ea8e12"/>
<circle cx="293.30" cy="529.70" r="3.60" fill="#ea8e12"/>
<circle cx="300.73" cy="534.70" r="3.60" fill="#ea8e12"/>
<circle cx="308.15" cy="539.70" r="3.60" fill="#ea8e12"/>
<circle cx="315.58" cy="544.50" r="3.60" fill="#ea8e12"/>
<circle cx="323.00" cy="549.50" r="3.60" fill="#ea8e12"/>
<circle cx="330.43" cy="554.50" r="3.60" fill="#ea8e12"/>
<circle cx="337.85" cy="559.20" r="3.60" fill="#ea8e12"/>
<circle cx="345.27" cy="564.20" r="3.60" fill="#ea8e12"/>
<circle cx="352.70" cy="569.20" r="3.60" fill="#ea8e12"/>
<circle cx="360.12" cy="574.20" r="3.60" fill="#ea8e12"/>
<circle cx="367.55" cy="578.80" r="3.60" fill="#ea8e12"/>
<circle cx="374.98" cy="583.80" r="3.60" fill="#ea8e12"/>
<circle cx="382.40" cy="588.70" r="3.60" fill="#ea8e12"/>
<circle cx="389.83" cy="593.80" r="3.60" fill="#ea8e12"/>
<circle cx="397.25" cy="598.80" r="3.60" fill="#ea8e12"/>
<circle cx="404.68" cy="604.20" r="3.60" fill="#ea8e12"/>
<circle cx="412.10" cy="609.50" r="3.60" fill="#ea8e12"/>
<circle cx="419.53" cy="614.70" r="3.60" fill="#ea8e12"/>
<circle cx="426.95" cy="619.70" r="3.60" fill="#ea8e12"/>
<circle cx="434.38" cy="624.70" r="3.60" fill="#ea8e12"/>
<circle cx="441.80" cy="630.00" r="3.60" fill="#ea8e12"/>
<circle cx="608.30" cy="443.10" r="4.20" fill="#13899a" stroke="#f2e6e6" stroke-width="1.3"/>
<circle cx="616.55" cy="443.70" r="4.20" fill="#13899a" stroke="#f2e6e6" stroke-width="1.3"/>
<circle cx="624.80" cy="444.30" r="4.20" fill="#13899a" stroke="#f2e6e6" stroke-width="1.3"/>
<circle cx="633.06" cy="445.00" r="4.20" fill="#13899a" stroke="#f2e6e6" stroke-width="1.3"/>
<circle cx="641.31" cy="446.00" r="4.20" fill="#13899a" stroke="#f2e6e6" stroke-width="1.3"/>
<circle cx="649.56" cy="446.90" r="4.20" fill="#13899a" stroke="#f2e6e6" stroke-width="1.3"/>
<circle cx="657.81" cy="448.00" r="4.20" fill="#13899a" stroke="#f2e6e6" stroke-width="1.3"/>
<circle cx="666.07" cy="449.00" r="4.20" fill="#13899a" stroke="#f2e6e6" stroke-width="1.3"/>
<circle cx="674.32" cy="450.10" r="4.20" fill="#13899a" stroke="#f2e6e6" stroke-width="1.3"/>
<circle cx="682.57" cy="451.30" r="4.20" fill="#13899a" stroke="#f2e6e6" stroke-width="1.3"/>
<circle cx="690.82" cy="452.65" r="4.20" fill="#13899a" stroke="#f2e6e6" stroke-width="1.3"/>
<circle cx="699.08" cy="454.00" r="4.20" fill="#13899a" stroke="#f2e6e6" stroke-width="1.3"/>
<circle cx="707.33" cy="455.55" r="4.20" fill="#13899a" stroke="#f2e6e6" stroke-width="1.3"/>
<circle cx="715.58" cy="457.15" r="4.20" fill="#13899a" stroke="#f2e6e6" stroke-width="1.3"/>
<circle cx="723.84" cy="458.65" r="4.20" fill="#13899a" stroke="#f2e6e6" stroke-width="1.3"/>
<circle cx="732.09" cy="460.45" r="4.20" fill="#13899a" stroke="#f2e6e6" stroke-width="1.3"/>
<circle cx="740.34" cy="462.25" r="4.20" fill="#13899a" stroke="#f2e6e6" stroke-width="1.3"/>
<circle cx="748.59" cy="464.15" r="4.20" fill="#13899a" stroke="#f2e6e6" stroke-width="1.3"/>
<circle cx="756.85" cy="466.00" r="4.20" fill="#13899a" stroke="#f2e6e6" stroke-width="1.3"/>
<circle cx="765.10" cy="468.35" r="4.20" fill="#13899a" stroke="#f2e6e6" stroke-width="1.3"/>
<circle cx="773.35" cy="470.55" r="4.20" fill="#13899a" stroke="#f2e6e6" stroke-width="1.3"/>
<circle cx="781.60" cy="473.80" r="4.20" fill="#13899a" stroke="#f2e6e6" stroke-width="1.3"/>
<circle cx="789.86" cy="476.70" r="4.20" fill="#ea8e12" stroke="#e4ebf8" stroke-width="1.3"/>
<circle cx="798.11" cy="480.75" r="4.20" fill="#ea8e12" stroke="#e4ebf8" stroke-width="1.3"/>
<circle cx="806.36" cy="484.65" r="4.20" fill="#ea8e12" stroke="#e4ebf8" stroke-width="1.3"/>
<circle cx="814.61" cy="491.15" r="4.20" fill="#ea8e12" stroke="#e4ebf8" stroke-width="1.3"/>
<circle cx="822.87" cy="497.00" r="4.20" fill="#ea8e12" stroke="#e4ebf8" stroke-width="1.3"/>
<circle cx="831.12" cy="503.55" r="4.20" fill="#ea8e12" stroke="#e4ebf8" stroke-width="1.3"/>
<circle cx="839.37" cy="512.15" r="4.20" fill="#ea8e12" stroke="#e4ebf8" stroke-width="1.3"/>
<circle cx="847.62" cy="518.25" r="4.20" fill="#ea8e12" stroke="#e4ebf8" stroke-width="1.3"/>
<circle cx="855.88" cy="527.55" r="4.20" fill="#ea8e12" stroke="#e4ebf8" stroke-width="1.3"/>
<circle cx="864.13" cy="540.80" r="4.20" fill="#ea8e12" stroke="#e4ebf8" stroke-width="1.3"/>
<circle cx="872.38" cy="546.90" r="4.20" fill="#ea8e12" stroke="#e4ebf8" stroke-width="1.3"/>
<circle cx="880.63" cy="555.30" r="4.20" fill="#ea8e12" stroke="#e4ebf8" stroke-width="1.3"/>
<circle cx="888.88" cy="560.45" r="4.20" fill="#ea8e12" stroke="#e4ebf8" stroke-width="1.3"/>
<circle cx="897.14" cy="567.55" r="4.20" fill="#ea8e12" stroke="#e4ebf8" stroke-width="1.3"/>
<circle cx="905.39" cy="571.25" r="4.20" fill="#ea8e12" stroke="#e4ebf8" stroke-width="1.3"/>
<circle cx="913.64" cy="575.90" r="4.20" fill="#ea8e12" stroke="#e4ebf8" stroke-width="1.3"/>
<circle cx="921.89" cy="577.35" r="4.20" fill="#ea8e12" stroke="#e4ebf8" stroke-width="1.3"/>
<circle cx="930.15" cy="581.20" r="4.20" fill="#ea8e12" stroke="#e4ebf8" stroke-width="1.3"/>
<circle cx="938.40" cy="579.70" r="4.20" fill="#ea8e12" stroke="#e4ebf8" stroke-width="1.3"/>
<circle cx="1039.20" cy="460.15" r="3.60" fill="#13899a"/>
<circle cx="1046.83" cy="466.10" r="3.60" fill="#13899a"/>
<circle cx="1054.46" cy="471.60" r="3.60" fill="#13899a"/>
<circle cx="1062.09" cy="476.40" r="3.60" fill="#13899a"/>
<circle cx="1069.72" cy="480.70" r="3.60" fill="#13899a"/>
<circle cx="1077.35" cy="484.65" r="3.60" fill="#13899a"/>
<circle cx="1084.98" cy="488.30" r="3.60" fill="#13899a"/>
<circle cx="1092.61" cy="492.10" r="3.60" fill="#13899a"/>
<circle cx="1100.24" cy="495.30" r="3.60" fill="#13899a"/>
<circle cx="1107.87" cy="498.50" r="3.60" fill="#13899a"/>
<circle cx="1115.50" cy="501.40" r="3.60" fill="#13899a"/>
<circle cx="1123.13" cy="504.60" r="3.60" fill="#13899a"/>
<circle cx="1130.76" cy="507.10" r="3.60" fill="#13899a"/>
<circle cx="1138.39" cy="509.90" r="3.60" fill="#13899a"/>
<circle cx="1146.02" cy="512.45" r="3.60" fill="#13899a"/>
<circle cx="1153.65" cy="515.00" r="3.60" fill="#13899a"/>
<circle cx="1161.28" cy="517.30" r="3.60" fill="#13899a"/>
<circle cx="1168.91" cy="519.80" r="3.60" fill="#13899a"/>
<circle cx="1176.54" cy="522.10" r="3.60" fill="#13899a"/>
<circle cx="1184.17" cy="524.30" r="3.60" fill="#ea8e12"/>
<circle cx="1191.80" cy="526.50" r="3.60" fill="#ea8e12"/>
<circle cx="1199.43" cy="528.80" r="3.60" fill="#ea8e12"/>
<circle cx="1207.06" cy="531.00" r="3.60" fill="#ea8e12"/>
<circle cx="1214.69" cy="533.10" r="3.60" fill="#ea8e12"/>
<circle cx="1222.32" cy="535.30" r="3.60" fill="#ea8e12"/>
<circle cx="1229.95" cy="537.40" r="3.60" fill="#ea8e12"/>
<circle cx="1237.58" cy="539.50" r="3.60" fill="#ea8e12"/>
<circle cx="1245.21" cy="541.60" r="3.60" fill="#ea8e12"/>
<circle cx="1252.84" cy="543.90" r="3.60" fill="#ea8e12"/>
<circle cx="1260.47" cy="546.20" r="3.60" fill="#ea8e12"/>
<circle cx="1268.10" cy="546.60" r="3.60" fill="#ea8e12"/>
<circle cx="1275.73" cy="548.30" r="3.60" fill="#ea8e12"/>
<circle cx="1283.36" cy="550.10" r="3.60" fill="#ea8e12"/>
<circle cx="1290.99" cy="551.90" r="3.60" fill="#ea8e12"/>
<circle cx="1298.62" cy="553.60" r="3.60" fill="#ea8e12"/>
<circle cx="1306.25" cy="555.00" r="3.60" fill="#ea8e12"/>
<circle cx="1313.88" cy="556.70" r="3.60" fill="#ea8e12"/>
<circle cx="1321.51" cy="558.25" r="3.60" fill="#ea8e12"/>
<circle cx="1329.14" cy="559.90" r="3.60" fill="#ea8e12"/>
<circle cx="1336.77" cy="561.40" r="3.60" fill="#ea8e12"/>
<circle cx="1344.40" cy="562.80" r="3.60" fill="#ea8e12"/>
<circle cx="1352.03" cy="564.20" r="3.60" fill="#ea8e12"/>
<circle cx="1359.66" cy="565.60" r="3.60" fill="#ea8e12"/>
<circle cx="1367.29" cy="566.70" r="3.60" fill="#ea8e12"/>
<circle cx="1374.92" cy="568.00" r="3.60" fill="#ea8e12"/>
<circle cx="1382.55" cy="569.10" r="3.60" fill="#ea8e12"/>
<circle cx="1390.18" cy="570.20" r="3.60" fill="#ea8e12"/>
<circle cx="1229.95" cy="537.40" r="4.2" fill="#ea8e12" stroke="#e4ebf8" stroke-width="1.1"/>
<circle cx="1237.58" cy="539.50" r="4.2" fill="#ea8e12" stroke="#e4ebf8" stroke-width="1.1"/>
<circle cx="1245.21" cy="541.60" r="4.2" fill="#ea8e12" stroke="#e4ebf8" stroke-width="1.1"/>
<circle cx="1252.84" cy="543.90" r="4.2" fill="#ea8e12" stroke="#e4ebf8" stroke-width="1.1"/>
<circle cx="1260.47" cy="546.20" r="4.2" fill="#ea8e12" stroke="#e4ebf8" stroke-width="1.1"/>
<line x1="137.50" y1="157.60" x2="493.75" y2="157.60" stroke="#555" stroke-width="1.4" stroke-dasharray="1.7 2.8" stroke-dashoffset="-3.9"/>
<line x1="595.60" y1="132.90" x2="951.60" y2="132.90" stroke="#555" stroke-width="1.4" stroke-dasharray="1.7 2.8" stroke-dashoffset="-3.9"/>
<line x1="1039.10" y1="143.05" x2="1395.50" y2="143.05" stroke="#555" stroke-width="1.4" stroke-dasharray="1.7 2.8" stroke-dashoffset="-3.9"/>
<line x1="137.50" y1="501.20" x2="494.20" y2="501.20" stroke="#555" stroke-width="1.4" stroke-dasharray="1.7 2.8" stroke-dashoffset="-3.9"/>
<line x1="595.60" y1="476.60" x2="952.00" y2="476.60" stroke="#555" stroke-width="1.4" stroke-dasharray="1.7 2.8" stroke-dashoffset="-3.9"/>
<line x1="1039.20" y1="522.80" x2="1395.50" y2="522.80" stroke="#555" stroke-width="1.4" stroke-dasharray="1.7 2.8" stroke-dashoffset="-3.9"/>
<rect x="137.50" y="71.70" width="356.25" height="214.80" fill="none" stroke="#3a3a3a" stroke-width="1.1"/>
<rect x="595.60" y="71.70" width="356.00" height="214.90" fill="none" stroke="#3a3a3a" stroke-width="1.1"/>
<rect x="1039.10" y="71.80" width="356.40" height="214.40" fill="none" stroke="#3a3a3a" stroke-width="1.1"/>
<rect x="137.50" y="415.40" width="356.70" height="214.80" fill="none" stroke="#3a3a3a" stroke-width="1.1"/>
<rect x="595.60" y="415.20" width="356.40" height="215.10" fill="none" stroke="#3a3a3a" stroke-width="1.1"/>
<rect x="1039.20" y="415.60" width="356.30" height="214.50" fill="none" stroke="#3a3a3a" stroke-width="1.1"/>
<g font-family="Liberation Sans" fill="#000">
<text transform="translate(129.99 323.20) scale(1 1.07)" font-size="27.0">0</text>
<path transform="translate(192.28 323.20) scale(0.01318 -0.01411)" d="M515 0L696 0L696 1409L530 1409L197 1180L197 1010L515 1237Z"/>
<text transform="translate(207.30 323.20) scale(1 1.07)" font-size="27.0">0</text>
<text transform="translate(262.08 323.20) scale(1 1.07)" font-size="27.0">20</text>
<text transform="translate(331.88 323.20) scale(1 1.07)" font-size="27.0">30</text>
<text transform="translate(401.68 323.20) scale(1 1.07)" font-size="27.0">40</text>
<text transform="translate(471.48 323.20) scale(1 1.07)" font-size="27.0">50</text>
<text transform="translate(97.19 296.20) scale(1 1.07)" font-size="27.0">-3</text>
<text transform="translate(97.19 253.24) scale(1 1.07)" font-size="27.0">-2</text>
<text transform="translate(97.19 210.28) scale(1 1.07)" font-size="27.0">-</text>
<path transform="translate(106.18 210.28) scale(0.01318 -0.01411)" d="M515 0L696 0L696 1409L530 1409L197 1180L197 1010L515 1237Z"/>
<text transform="translate(106.18 167.32) scale(1 1.07)" font-size="27.0">0</text>
<path transform="translate(106.18 124.36) scale(0.01318 -0.01411)" d="M515 0L696 0L696 1409L530 1409L197 1180L197 1010L515 1237Z"/>
<text transform="translate(106.18 81.40) scale(1 1.07)" font-size="27.0">2</text>
<text transform="translate(586.23 323.20) scale(1 1.07)" font-size="27.0">2.5</text>
<text transform="translate(645.65 323.20) scale(1 1.07)" font-size="27.0">3</text>
<text transform="translate(682.55 323.20) scale(1 1.07)" font-size="27.0">3.5</text>
<text transform="translate(741.96 323.20) scale(1 1.07)" font-size="27.0">4</text>
<text transform="translate(778.86 323.20) scale(1 1.07)" font-size="27.0">4.5</text>
<text transform="translate(838.28 323.20) scale(1 1.07)" font-size="27.0">5</text>
<text transform="translate(875.18 323.20) scale(1 1.07)" font-size="27.0">5.5</text>
<text transform="translate(934.59 323.20) scale(1 1.07)" font-size="27.0">6</text>
<text transform="translate(540.27 296.30) scale(1 1.07)" font-size="27.0">-50</text>
<text transform="translate(540.27 265.60) scale(1 1.07)" font-size="27.0">-40</text>
<text transform="translate(540.27 234.90) scale(1 1.07)" font-size="27.0">-30</text>
<text transform="translate(540.27 204.20) scale(1 1.07)" font-size="27.0">-20</text>
<text transform="translate(540.27 173.50) scale(1 1.07)" font-size="27.0">-</text>
<path transform="translate(549.27 173.50) scale(0.01318 -0.01411)" d="M515 0L696 0L696 1409L530 1409L197 1180L197 1010L515 1237Z"/>
<text transform="translate(564.28 173.50) scale(1 1.07)" font-size="27.0">0</text>
<text transform="translate(564.28 142.80) scale(1 1.07)" font-size="27.0">0</text>
<path transform="translate(549.27 112.10) scale(0.01318 -0.01411)" d="M515 0L696 0L696 1409L530 1409L197 1180L197 1010L515 1237Z"/>
<text transform="translate(564.28 112.10) scale(1 1.07)" font-size="27.0">0</text>
<text transform="translate(549.27 81.40) scale(1 1.07)" font-size="27.0">20</text>
<path transform="translate(1050.03 323.20) scale(0.01318 -0.01411)" d="M515 0L696 0L696 1409L530 1409L197 1180L197 1010L515 1237Z"/>
<text transform="translate(1065.05 323.20) scale(1 1.07)" font-size="27.0">.2</text>
<path transform="translate(1109.43 323.20) scale(0.01318 -0.01411)" d="M515 0L696 0L696 1409L530 1409L197 1180L197 1010L515 1237Z"/>
<text transform="translate(1124.45 323.20) scale(1 1.07)" font-size="27.0">.4</text>
<path transform="translate(1168.83 323.20) scale(0.01318 -0.01411)" d="M515 0L696 0L696 1409L530 1409L197 1180L197 1010L515 1237Z"/>
<text transform="translate(1183.85 323.20) scale(1 1.07)" font-size="27.0">.6</text>
<path transform="translate(1228.23 323.20) scale(0.01318 -0.01411)" d="M515 0L696 0L696 1409L530 1409L197 1180L197 1010L515 1237Z"/>
<text transform="translate(1243.25 323.20) scale(1 1.07)" font-size="27.0">.8</text>
<text transform="translate(1298.89 323.20) scale(1 1.07)" font-size="27.0">2</text>
<text transform="translate(1347.03 323.20) scale(1 1.07)" font-size="27.0">2.2</text>
<text transform="translate(998.79 295.90) scale(1 1.07)" font-size="27.0">-2</text>
<text transform="translate(976.27 260.17) scale(1 1.07)" font-size="27.0">-</text>
<path transform="translate(985.27 260.17) scale(0.01318 -0.01411)" d="M515 0L696 0L696 1409L530 1409L197 1180L197 1010L515 1237Z"/>
<text transform="translate(1000.28 260.17) scale(1 1.07)" font-size="27.0">.5</text>
<text transform="translate(998.79 224.43) scale(1 1.07)" font-size="27.0">-</text>
<path transform="translate(1007.78 224.43) scale(0.01318 -0.01411)" d="M515 0L696 0L696 1409L530 1409L197 1180L197 1010L515 1237Z"/>
<text transform="translate(976.27 188.70) scale(1 1.07)" font-size="27.0">-0.5</text>
<text transform="translate(1007.78 152.97) scale(1 1.07)" font-size="27.0">0</text>
<text transform="translate(985.27 117.23) scale(1 1.07)" font-size="27.0">0.5</text>
<path transform="translate(1007.78 81.50) scale(0.01318 -0.01411)" d="M515 0L696 0L696 1409L530 1409L197 1180L197 1010L515 1237Z"/>
<text transform="translate(122.28 666.60) scale(1 1.07)" font-size="27.0">280</text>
<text transform="translate(196.53 666.60) scale(1 1.07)" font-size="27.0">290</text>
<text transform="translate(270.78 666.60) scale(1 1.07)" font-size="27.0">300</text>
<text transform="translate(345.03 666.60) scale(1 1.07)" font-size="27.0">3</text>
<path transform="translate(360.04 666.60) scale(0.01318 -0.01411)" d="M515 0L696 0L696 1409L530 1409L197 1180L197 1010L515 1237Z"/>
<text transform="translate(375.06 666.60) scale(1 1.07)" font-size="27.0">0</text>
<text transform="translate(419.28 666.60) scale(1 1.07)" font-size="27.0">320</text>
<text transform="translate(97.19 639.90) scale(1 1.07)" font-size="27.0">-3</text>
<text transform="translate(97.19 596.94) scale(1 1.07)" font-size="27.0">-2</text>
<text transform="translate(97.19 553.98) scale(1 1.07)" font-size="27.0">-</text>
<path transform="translate(106.18 553.98) scale(0.01318 -0.01411)" d="M515 0L696 0L696 1409L530 1409L197 1180L197 1010L515 1237Z"/>
<text transform="translate(106.18 511.02) scale(1 1.07)" font-size="27.0">0</text>
<path transform="translate(106.18 468.06) scale(0.01318 -0.01411)" d="M515 0L696 0L696 1409L530 1409L197 1180L197 1010L515 1237Z"/>
<text transform="translate(106.18 425.10) scale(1 1.07)" font-size="27.0">2</text>
<text transform="translate(589.53 666.60) scale(1 1.07)" font-size="27.0">2.4</text>
<text transform="translate(655.55 666.60) scale(1 1.07)" font-size="27.0">2.6</text>
<text transform="translate(721.57 666.60) scale(1 1.07)" font-size="27.0">2.8</text>
<text transform="translate(798.85 666.60) scale(1 1.07)" font-size="27.0">3</text>
<text transform="translate(853.61 666.60) scale(1 1.07)" font-size="27.0">3.2</text>
<text transform="translate(919.63 666.60) scale(1 1.07)" font-size="27.0">3.4</text>
<text transform="translate(540.27 640.00) scale(1 1.07)" font-size="27.0">-50</text>
<text transform="translate(540.27 609.27) scale(1 1.07)" font-size="27.0">-40</text>
<text transform="translate(540.27 578.54) scale(1 1.07)" font-size="27.0">-30</text>
<text transform="translate(540.27 547.81) scale(1 1.07)" font-size="27.0">-20</text>
<text transform="translate(540.27 517.09) scale(1 1.07)" font-size="27.0">-</text>
<path transform="translate(549.27 517.09) scale(0.01318 -0.01411)" d="M515 0L696 0L696 1409L530 1409L197 1180L197 1010L515 1237Z"/>
<text transform="translate(564.28 517.09) scale(1 1.07)" font-size="27.0">0</text>
<text transform="translate(564.28 486.36) scale(1 1.07)" font-size="27.0">0</text>
<path transform="translate(549.27 455.63) scale(0.01318 -0.01411)" d="M515 0L696 0L696 1409L530 1409L197 1180L197 1010L515 1237Z"/>
<text transform="translate(564.28 455.63) scale(1 1.07)" font-size="27.0">0</text>
<text transform="translate(549.27 424.90) scale(1 1.07)" font-size="27.0">20</text>
<text transform="translate(1071.33 666.60) scale(1 1.07)" font-size="27.0">0.2</text>
<text transform="translate(1173.13 666.60) scale(1 1.07)" font-size="27.0">0.4</text>
<text transform="translate(1274.93 666.60) scale(1 1.07)" font-size="27.0">0.6</text>
<text transform="translate(1376.73 666.60) scale(1 1.07)" font-size="27.0">0.8</text>
<text transform="translate(998.89 639.80) scale(1 1.07)" font-size="27.0">-2</text>
<text transform="translate(998.89 586.18) scale(1 1.07)" font-size="27.0">-</text>
<path transform="translate(1007.88 586.18) scale(0.01318 -0.01411)" d="M515 0L696 0L696 1409L530 1409L197 1180L197 1010L515 1237Z"/>
<text transform="translate(1007.88 532.55) scale(1 1.07)" font-size="27.0">0</text>
<path transform="translate(1007.88 478.93) scale(0.01318 -0.01411)" d="M515 0L696 0L696 1409L530 1409L197 1180L197 1010L515 1237Z"/>
<text transform="translate(1007.88 425.30) scale(1 1.07)" font-size="27.0">2</text>
<text transform="translate(270.07 363.50) scale(1 1.07)" font-size="27.0">g</text>
<text transform="translate(285.59 349.30) scale(1 1.05)" font-size="21.0">R</text>
<text transform="translate(285.09 371.40) scale(1 1.05)" font-size="21.0">G</text>
<text transform="translate(308.92 363.50) scale(1 1.07)" font-size="27.0">(nS)</text>
<text transform="translate(728.67 363.50) scale(1 1.07)" font-size="27.0">g</text>
<text transform="translate(744.19 349.30) scale(1 1.05)" font-size="21.0">R</text>
<text transform="translate(743.69 371.40) scale(1 1.05)" font-size="21.0">G</text>
<text transform="translate(767.52 363.50) scale(1 1.07)" font-size="27.0">(nS)</text>
<text transform="translate(1165.56 363.50) scale(1 1.07)" font-size="27.0">a</text>
<text transform="translate(1181.08 349.30) scale(1 1.05)" font-size="21.0">R</text>
<text transform="translate(1180.58 371.40) scale(1 1.05)" font-size="21.0">ie</text>
<text transform="translate(1204.42 363.50) scale(1 1.07)" font-size="27.0">(a.u.)</text>
<text transform="translate(267.02 707.20) scale(1 1.07)" font-size="27.0">I</text>
<text transform="translate(275.02 693.00) scale(1 1.05)" font-size="21.0">R</text>
<text transform="translate(274.52 715.10) scale(1 1.05)" font-size="21.0">Ext</text>
<text transform="translate(312.37 707.20) scale(1 1.07)" font-size="27.0">(pA)</text>
<text transform="translate(714.46 707.20) scale(1 1.07)" font-size="30" font-family="Liberation Serif">λ</text>
<text transform="translate(729.51 693.00) scale(1 1.05)" font-size="21.0">R</text>
<text transform="translate(729.01 715.10) scale(1 1.05)" font-size="21.0">Ext</text>
<text transform="translate(766.85 707.20) scale(1 1.07)" font-size="27.0">(kHz)</text>
<text transform="translate(1163.12 707.20) scale(1 1.07)" font-size="27.0">I</text>
<text transform="translate(1171.12 693.00) scale(1 1.05)" font-size="21.0">R</text>
<text transform="translate(1170.62 715.10) scale(1 1.05)" font-size="21.0">Ext</text>
<text transform="translate(1208.46 707.20) scale(1 1.07)" font-size="27.0">(a.u.)</text>
<text x="315.7" y="29.2" text-anchor="middle" font-size="34">3-Neurons-Motif</text>
<text x="773.7" y="29.2" text-anchor="middle" font-size="34">Neuronal Populations</text>
<text x="1218" y="29.0" text-anchor="middle" font-size="34">Neural Mass</text>
<text transform="translate(29.6 182) rotate(-90)" text-anchor="middle" font-size="34.3">Internal</text>
<text transform="translate(29.5 524.8) rotate(-90)" text-anchor="middle" font-size="34.3">External</text>
<text transform="translate(83.10 189.76) rotate(-90)" font-size="27.0">(ms)</text>
<path transform="translate(65.2 213.60) rotate(-90)" d="M0.5 7.2C1.0 3.6 2.7 2.2 5.6 2.2L15 2.2" fill="none" stroke="#000" stroke-width="2.9"/><path transform="translate(65.2 213.60) rotate(-90)" d="M7.9 2.2L7.9 13.2C7.9 17.4 9.2 18.7 10.9 18.7C12.7 18.7 13.8 16.6 13.8 13.4" fill="none" stroke="#000" stroke-width="2.4"/>
<text transform="translate(83.10 534.26) rotate(-90)" font-size="27.0">(ms)</text>
<path transform="translate(65.2 557.90) rotate(-90)" d="M0.5 7.2C1.0 3.6 2.7 2.2 5.6 2.2L15 2.2" fill="none" stroke="#000" stroke-width="2.9"/><path transform="translate(65.2 557.90) rotate(-90)" d="M7.9 2.2L7.9 13.2C7.9 17.4 9.2 18.7 10.9 18.7C12.7 18.7 13.8 16.6 13.8 13.4" fill="none" stroke="#000" stroke-width="2.4"/>
<text x="39.20" y="66.90" font-size="34" font-weight="bold">A</text>
<text x="514.70" y="66.90" font-size="34" font-weight="bold">B</text>
<text x="972.20" y="66.90" font-size="34" font-weight="bold">C</text>
<text x="39.30" y="407.20" font-size="34" font-weight="bold">D</text>
<text x="514.80" y="407.20" font-size="34" font-weight="bold">E</text>
<text x="972.50" y="407.20" font-size="34" font-weight="bold">F</text>
</g>
</svg>
</body></html>
